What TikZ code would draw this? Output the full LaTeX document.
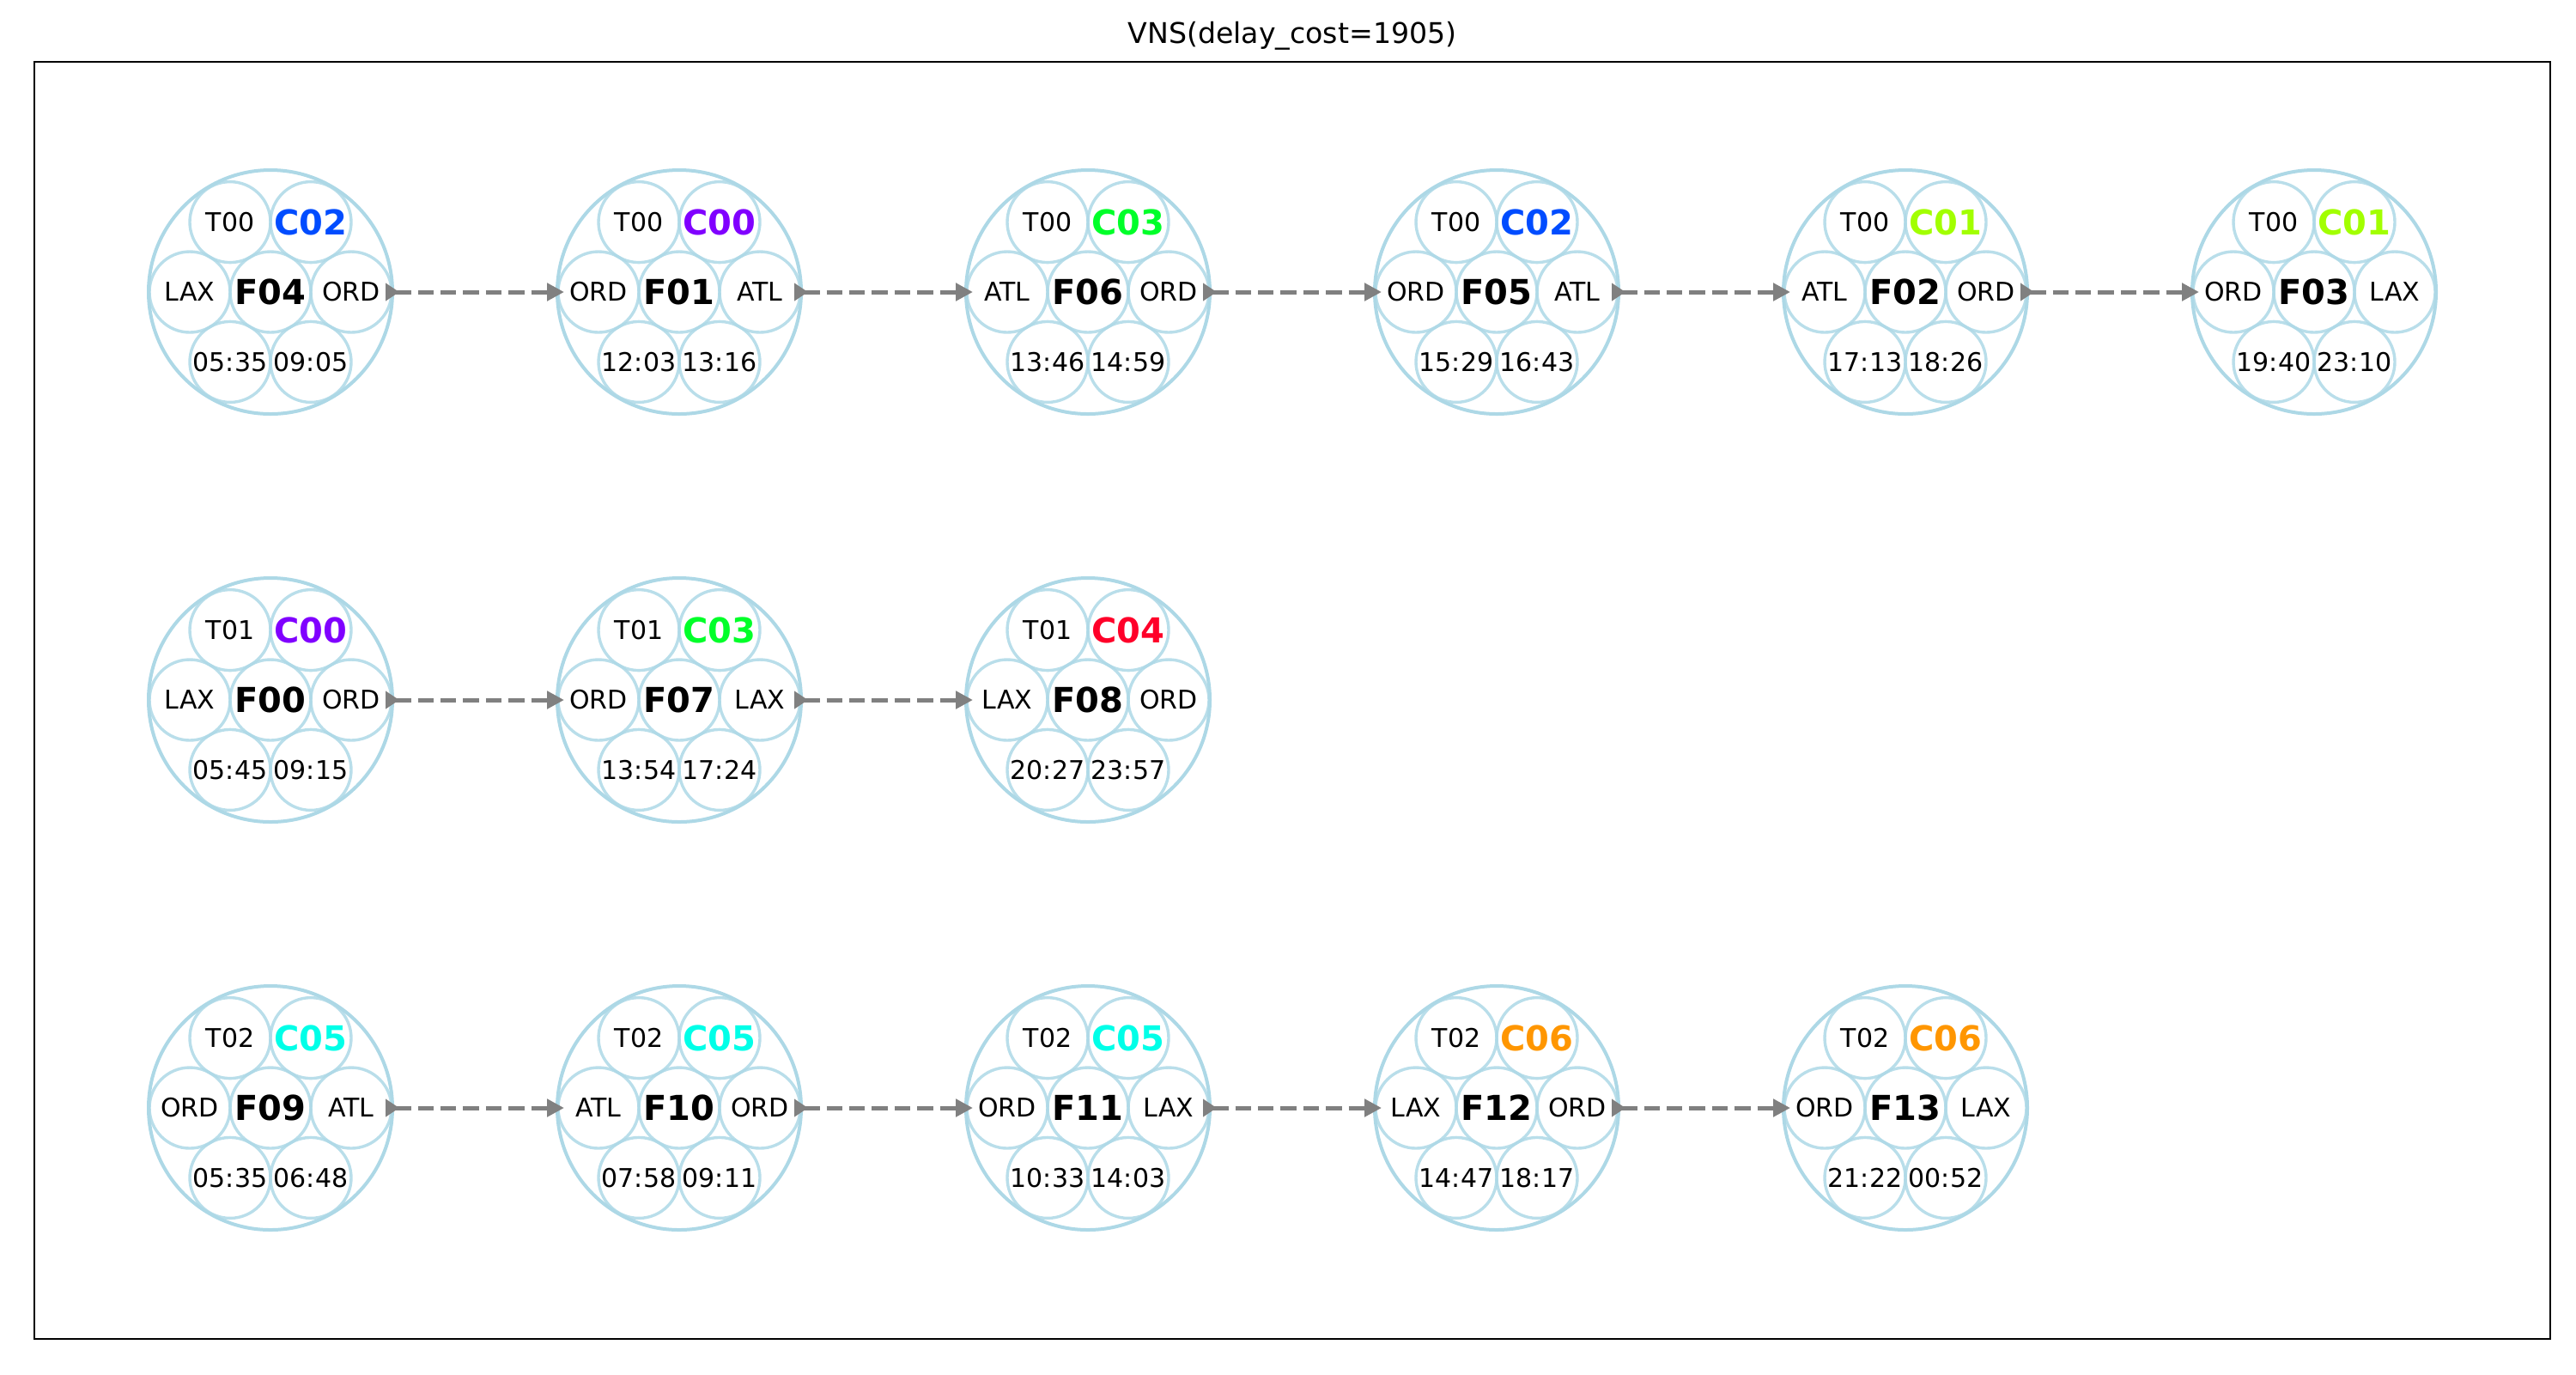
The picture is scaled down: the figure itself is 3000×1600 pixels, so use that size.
\documentclass[tikz,border=0pt]{standalone}
\usepackage{fontspec}
\setmainfont{DejaVu Sans}
\usetikzlibrary{arrows.meta}
\definecolor{ring}{RGB}{173,216,230}
\definecolor{cA}{RGB}{128,0,255}
\definecolor{cB}{RGB}{162,255,0}
\definecolor{cC}{RGB}{0,76,255}
\definecolor{cD}{RGB}{0,255,41}
\definecolor{cE}{RGB}{255,0,41}
\definecolor{cF}{RGB}{0,255,232}
\definecolor{cG}{RGB}{255,150,0}
\tikzset{
  outer/.style={circle, draw=ring, line width=1pt, minimum size=71pt, inner sep=0pt},
  small/.style={circle, draw=ring, draw opacity=0.85, line width=0.85pt, minimum size=23.5pt, inner sep=0pt},
  lbl/.style={font=\fontsize{7.5}{9}\selectfont, text=black, inner sep=0pt},
  blbl/.style={font=\fontsize{10}{12}\selectfont\bfseries, inner sep=0pt},
  link/.style={draw=gray, line width=1.25pt, dash pattern=on 4.6pt off 2pt,
    arrows={Triangle[reversed,length=4pt,width=5pt]-Triangle[length=5pt,width=5pt]}},
}
\newcommand\flt[9]{%
  \node[outer] (#1) at #2 {};
  \node[small, label={[blbl]center:#1}] (#1-m) at (#1) {};
  \node[small, label={[lbl]center:#3}] (#1-t) at ([shift={(-47,-81.4)}]#1) {};
  \node[small, label={[blbl,text=#5]center:#4}] (#1-c) at ([shift={(47,-81.4)}]#1) {};
  \node[small, label={[lbl]center:#6}] (#1-o) at ([shift={(-94,0)}]#1) {};
  \node[small, label={[lbl]center:#7}] (#1-d) at ([shift={(94,0)}]#1) {};
  \node[small, label={[lbl]center:#8}] (#1-dep) at ([shift={(-47,81.4)}]#1) {};
  \node[small, label={[lbl]center:#9}] (#1-arr) at ([shift={(47,81.4)}]#1) {};
}
\begin{document}
\begin{tikzpicture}[x=0.25pt,y=-0.25pt]
\useasboundingbox (0,0) rectangle (3000,1600);
\draw[line width=0.6pt] (40,72) rectangle (2970,1559);
\node[font=\fontsize{8.3}{10}\selectfont, inner sep=0pt] (title) at (1505,42) {VNS(delay\_cost=1905)};
% row 1
\flt{F04}{(315,340)}{T00}{C02}{cC}{LAX}{ORD}{05:35}{09:05}
\flt{F01}{(791,340)}{T00}{C00}{cA}{ORD}{ATL}{12:03}{13:16}
\flt{F06}{(1267,340)}{T00}{C03}{cD}{ATL}{ORD}{13:46}{14:59}
\flt{F05}{(1743,340)}{T00}{C02}{cC}{ORD}{ATL}{15:29}{16:43}
\flt{F02}{(2219,340)}{T00}{C01}{cB}{ATL}{ORD}{17:13}{18:26}
\flt{F03}{(2695,340)}{T00}{C01}{cB}{ORD}{LAX}{19:40}{23:10}
% row 2
\flt{F00}{(315,815)}{T01}{C00}{cA}{LAX}{ORD}{05:45}{09:15}
\flt{F07}{(791,815)}{T01}{C03}{cD}{ORD}{LAX}{13:54}{17:24}
\flt{F08}{(1267,815)}{T01}{C04}{cE}{LAX}{ORD}{20:27}{23:57}
% row 3
\flt{F09}{(315,1290)}{T02}{C05}{cF}{ORD}{ATL}{05:35}{06:48}
\flt{F10}{(791,1290)}{T02}{C05}{cF}{ATL}{ORD}{07:58}{09:11}
\flt{F11}{(1267,1290)}{T02}{C05}{cF}{ORD}{LAX}{10:33}{14:03}
\flt{F12}{(1743,1290)}{T02}{C06}{cG}{LAX}{ORD}{14:47}{18:17}
\flt{F13}{(2219,1290)}{T02}{C06}{cG}{ORD}{LAX}{21:22}{00:52}
% links
\foreach \a/\b in {F04/F01,F01/F06,F06/F05,F05/F02,F02/F03,F00/F07,F07/F08,F09/F10,F10/F11,F11/F12,F12/F13}
  \draw[link] ([xshift=-2.5pt]\a.east) -- ([xshift=2.5pt]\b.west);
\end{tikzpicture}
\end{document}
